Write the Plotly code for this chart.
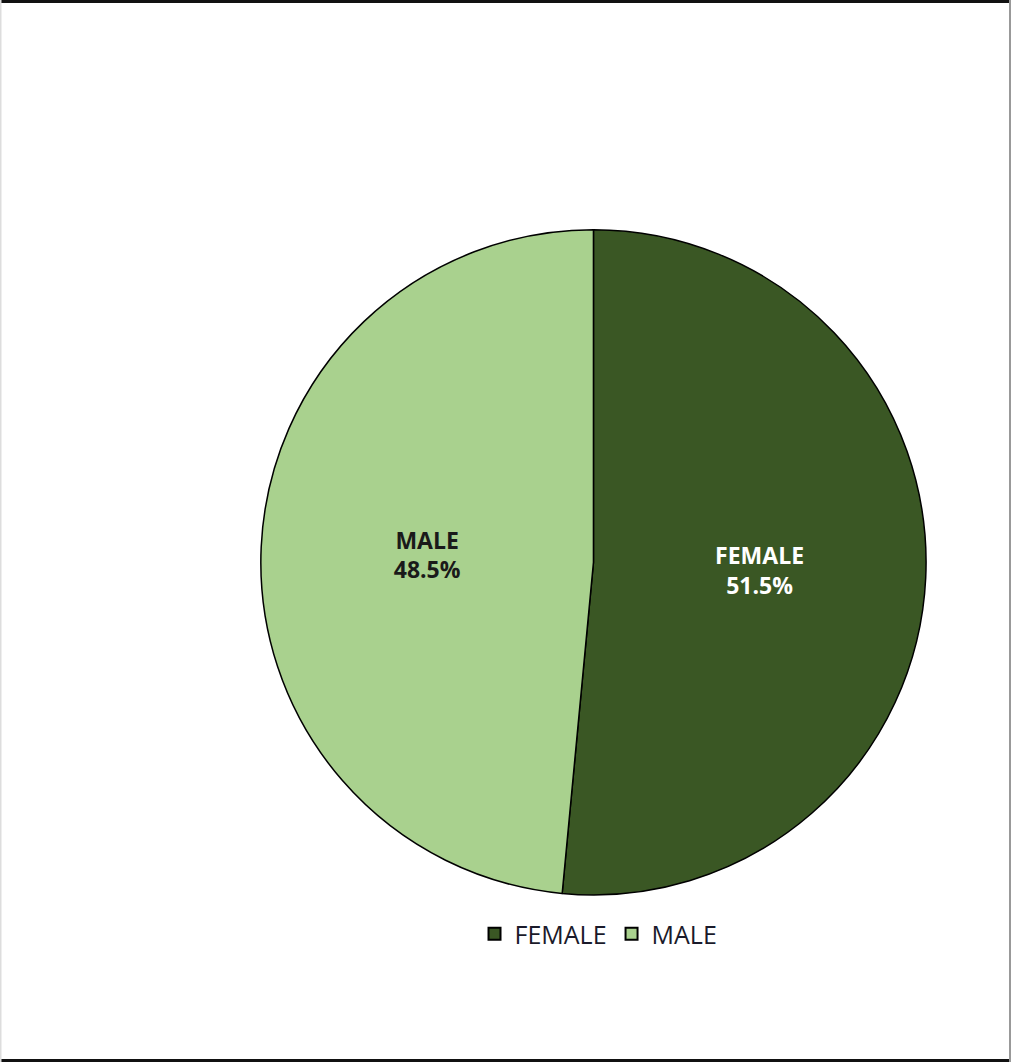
import plotly.graph_objects as go

labels = ["FEMALE", "MALE"]
values = [51.5, 48.5]
colors = ["#3A5724", "#A9D18E"]
text_colors = ["#FFFFFF", "#1A1A1A"]

W, H = 1011, 1062

fig = go.Figure()
fig.add_trace(go.Pie(
    labels=labels,
    values=values,
    sort=False,
    direction="clockwise",
    rotation=0,
    marker=dict(colors=colors, line=dict(color="#000000", width=1.5)),
    texttemplate="<b>%{label}<br>%{percent:.1%}</b>",
    textposition="inside",
    insidetextorientation="horizontal",
    insidetextfont=dict(family="Open Sans, Lato, sans-serif", size=23, color=text_colors),
    hoverinfo="label+percent",
    domain=dict(x=[0.258, 0.916], y=[0.157, 0.784]),
))

fig.update_layout(
    width=W, height=H,
    margin=dict(l=0, r=0, t=0, b=0),
    paper_bgcolor="#FFFFFF",
    plot_bgcolor="#FFFFFF",
    showlegend=True,
    legend=dict(
        orientation="h",
        x=0.592, xanchor="center",
        y=0.1205, yanchor="middle",
        font=dict(family="Open Sans, Lato, sans-serif", size=25, color="#1A1A2A"),
        itemsizing="constant",
        traceorder="normal",
    ),
    shapes=[
        dict(type="rect", xref="paper", yref="paper", x0=0, x1=1, y0=1 - 3 / H, y1=1,
             fillcolor="#111111", line=dict(width=0)),
        dict(type="rect", xref="paper", yref="paper", x0=0, x1=1, y0=0, y1=3 / H,
             fillcolor="#111111", line=dict(width=0)),
        dict(type="rect", xref="paper", yref="paper", x0=0, x1=1.5 / W, y0=0, y1=1,
             fillcolor="#DDDDDD", line=dict(width=0)),
        dict(type="rect", xref="paper", yref="paper", x0=1 - 2 / W, x1=1, y0=0, y1=1,
             fillcolor="#999999", line=dict(width=0)),
    ],
)

fig.write_html(
    "out.html",
    config={"displayModeBar": False},
    post_script="document.body.style.margin='0';document.body.style.overflow='hidden';",
)
